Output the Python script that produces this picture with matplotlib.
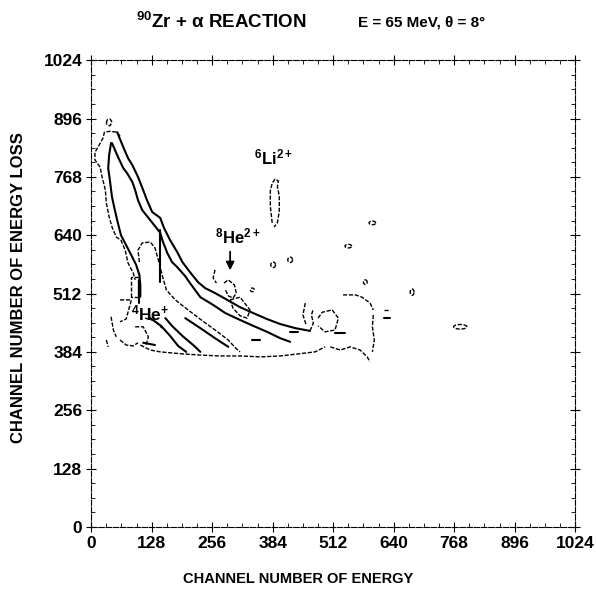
import numpy as np
import matplotlib
matplotlib.use("Agg")
import matplotlib.pyplot as plt

plt.rcParams["font.family"] = ["Liberation Sans", "DejaVu Sans"]
plt.rcParams["mathtext.fontset"] = "custom"
plt.rcParams["mathtext.bf"] = "Liberation Sans:bold"
plt.rcParams["mathtext.rm"] = "Liberation Sans:bold"
plt.rcParams["mathtext.default"] = "bf"

# axis ticks
tick_values = [0, 128, 256, 384, 512, 640, 768, 896, 1024]

# traced contour lines (channel of energy, channel of energy loss)
top_loop = [(32, 886), (34, 893), (40, 895), (44, 888), (40, 880), (34, 882), (32, 886)]
band_left_outer = [(61, 857), (55, 866), (40, 868), (28, 866), (25, 853), (17, 838), (8, 822),
                   (8, 805), (19, 789), (23, 768), (30, 739), (32, 711), (38, 680), (44, 658),
                   (53, 636), (63, 629), (72, 607), (78, 579), (89, 557), (93, 542)]
band_left_inner = [(42, 842), (38, 816), (36, 787), (40, 757), (44, 724), (49, 700), (55, 673),
                   (63, 640), (74, 618), (85, 596), (95, 575), (102, 553), (104, 530), (104, 505)]
band_ridge_a = [(44, 842), (57, 811), (68, 787), (76, 776), (87, 757), (93, 739), (99, 717),
                (108, 695), (125, 673), (138, 656), (146, 645), (152, 625), (161, 601),
                (171, 581), (182, 570), (199, 550), (209, 535), (231, 504), (258, 487),
                (284, 469), (315, 454), (343, 441), (372, 428), (400, 414), (421, 406)]
band_ridge_b = [(55, 866), (68, 833), (78, 809), (87, 794), (99, 768), (110, 739), (118, 717),
                (129, 691), (146, 678), (154, 656), (167, 629), (182, 603), (193, 581),
                (209, 559), (226, 537), (241, 524), (262, 513), (288, 498), (315, 482),
                (343, 469), (372, 456), (400, 445), (432, 436), (463, 430)]
band_lower_c = [(102, 581), (99, 607), (108, 623), (125, 625), (135, 612), (142, 586),
                (150, 553), (159, 520), (178, 498), (205, 476), (233, 454), (262, 432),
                (290, 410), (305, 393), (315, 384)]
band_lower_d = [(125, 458), (148, 441), (167, 419), (184, 397), (201, 384)]
band_lower_e = [(157, 458), (171, 441), (193, 419), (218, 397), (231, 384)]
band_lower_f = [(199, 458), (231, 436), (262, 414), (290, 395)]
band_bottom = [(104, 399), (125, 388), (146, 384), (188, 380), (231, 377), (273, 375),
               (315, 375), (358, 373), (400, 375), (442, 380), (474, 384), (495, 395)]
band_right_edge = [(463, 430), (470, 447), (466, 465), (470, 478)]
he4_box = [(85, 504), (85, 548), (99, 548), (99, 504), (85, 504)]
band_stub_1 = [(146, 651), (146, 537)]
band_stub_2 = [(102, 542), (102, 491)]

left_curl_1 = [(61, 498), (85, 498), (74, 456), (61, 450)]
left_curl_2 = [(42, 461), (47, 432), (53, 417)]
left_curl_3 = [(32, 410), (36, 395)]
left_curl_4 = [(93, 439), (110, 439), (121, 417), (116, 399)]
left_curl_5 = [(61, 410), (74, 399), (89, 397), (99, 404)]
left_curl_6 = [(114, 458), (135, 452), (150, 436)]
left_bar = [(110, 404), (135, 399)]
right_bar_1 = [(341, 410), (358, 410)]
right_bar_2 = [(420, 428), (437, 428)]

li6_loop = [(383, 667), (379, 704), (379, 737), (383, 754), (389, 763), (396, 759),
            (394, 746), (398, 726), (398, 693), (394, 667), (387, 658)]
he8_loop = [(281, 535), (290, 542), (303, 531), (307, 513), (300, 502), (290, 507), (284, 520)]
he8_loop_2 = [(294, 498), (315, 504), (336, 476), (330, 458), (315, 463), (300, 480), (294, 498)]
he8_curl = [(262, 564), (258, 546), (265, 535)]

mid_arc = [(453, 491), (448, 465), (455, 443)]
mid_blob = [(480, 458), (489, 471), (510, 476), (523, 458), (516, 432), (495, 428), (480, 441)]
mid_top = [(533, 509), (559, 509), (573, 504), (590, 491), (597, 476)]
mid_right = [(597, 465), (595, 439), (599, 410), (595, 384)]
mid_bottom = [(506, 395), (527, 388), (548, 395), (569, 388), (584, 373), (590, 362)]
mid_bar = [(516, 425), (537, 425)]
mid_f = [(620, 476), (633, 476)]
mid_f_bar = [(620, 458), (633, 458)]

# small isolated islands: centre x, centre y, half width, half height
island_x = [385, 421, 544, 595, 580, 679, 781, 341]
island_y = [575, 586, 616, 667, 537, 515, 439, 520]
island_w = [5, 5, 7, 7, 4, 4, 14, 4]
island_h = [6, 6, 4, 4, 5, 7, 5, 4]

solid_lines = [band_left_inner, band_ridge_a, band_ridge_b, band_lower_d, band_lower_e,
               band_lower_f, band_stub_1, band_stub_2, left_bar, mid_bar, mid_f_bar,
               right_bar_1, right_bar_2]
dashed_lines = [top_loop, band_left_outer, band_lower_c, band_bottom, band_right_edge, he4_box,
                left_curl_1, left_curl_2, left_curl_3, left_curl_4, left_curl_5, left_curl_6,
                li6_loop, he8_loop, he8_loop_2, he8_curl, mid_arc, mid_blob, mid_top,
                mid_right, mid_bottom, mid_f]

fig = plt.figure(figsize=(5.96, 5.90), dpi=100)
ax = fig.add_axes([0.153, 0.107, 0.812, 0.791])

for line in solid_lines:
    xs, ys = zip(*line)
    ax.plot(xs, ys, color="black", lw=1.5, solid_capstyle="round")

for line in dashed_lines:
    xs, ys = zip(*line)
    ax.plot(xs, ys, color="black", lw=1.0, linestyle=(0, (3, 1.2)))

t = np.linspace(0, 2 * np.pi, 30)
for cx, cy, w, h in zip(island_x, island_y, island_w, island_h):
    ax.plot(cx + w * np.cos(t), cy + h * np.sin(t), color="black", lw=1.0,
            linestyle=(0, (3, 1.2)))

# labels on the islands
ax.text(125, 469, r"$^{4}$He$^{+}$", fontsize=12.5, ha="center", va="center", fontweight="bold")
ax.text(311, 638, r"$^{8}$He$^{2+}$", fontsize=12, ha="center", va="center", fontweight="bold")
ax.text(385, 811, r"$^{6}$Li$^{2+}$", fontsize=12, ha="center", va="center", fontweight="bold")
ax.annotate("", xy=(294, 557), xytext=(294, 610),
            arrowprops=dict(arrowstyle="-|>", color="black", lw=1.3, mutation_scale=12))

ax.set_xlim(0, 1024)
ax.set_ylim(0, 1024)
ax.set_xticks(tick_values)
ax.set_yticks(tick_values)
ax.set_xticks(np.arange(0, 1025, 32), minor=True)
ax.set_yticks(np.arange(0, 1025, 32), minor=True)
ax.tick_params(which="major", direction="inout", length=7, width=0.8,
               top=True, right=True, labelsize=12.5, pad=3)
ax.tick_params(which="minor", direction="in", length=3, width=0.6, top=True, right=True)
for lab in ax.get_xticklabels() + ax.get_yticklabels():
    lab.set_fontweight("bold")
for s in ax.spines.values():
    s.set_linewidth(0.8)
    s.set_linestyle((0, (5, 1.5)))

ax.set_xlabel("CHANNEL NUMBER OF ENERGY", fontsize=10.5, fontweight="bold")
ax.set_ylabel("CHANNEL NUMBER OF ENERGY LOSS", fontsize=12, fontweight="bold")
ax.xaxis.set_label_coords(0.428, -0.097)
ax.yaxis.set_label_coords(-0.134, 0.512)

fig.text(0.372, 0.962, r"$^{90}$Zr + α REACTION", fontsize=13.5, fontweight="bold",
         ha="center", va="center")
fig.text(0.708, 0.962, "E = 65 MeV, θ = 8°", fontsize=11, fontweight="bold",
         ha="center", va="center")

fig.savefig("out.png", dpi=100)
